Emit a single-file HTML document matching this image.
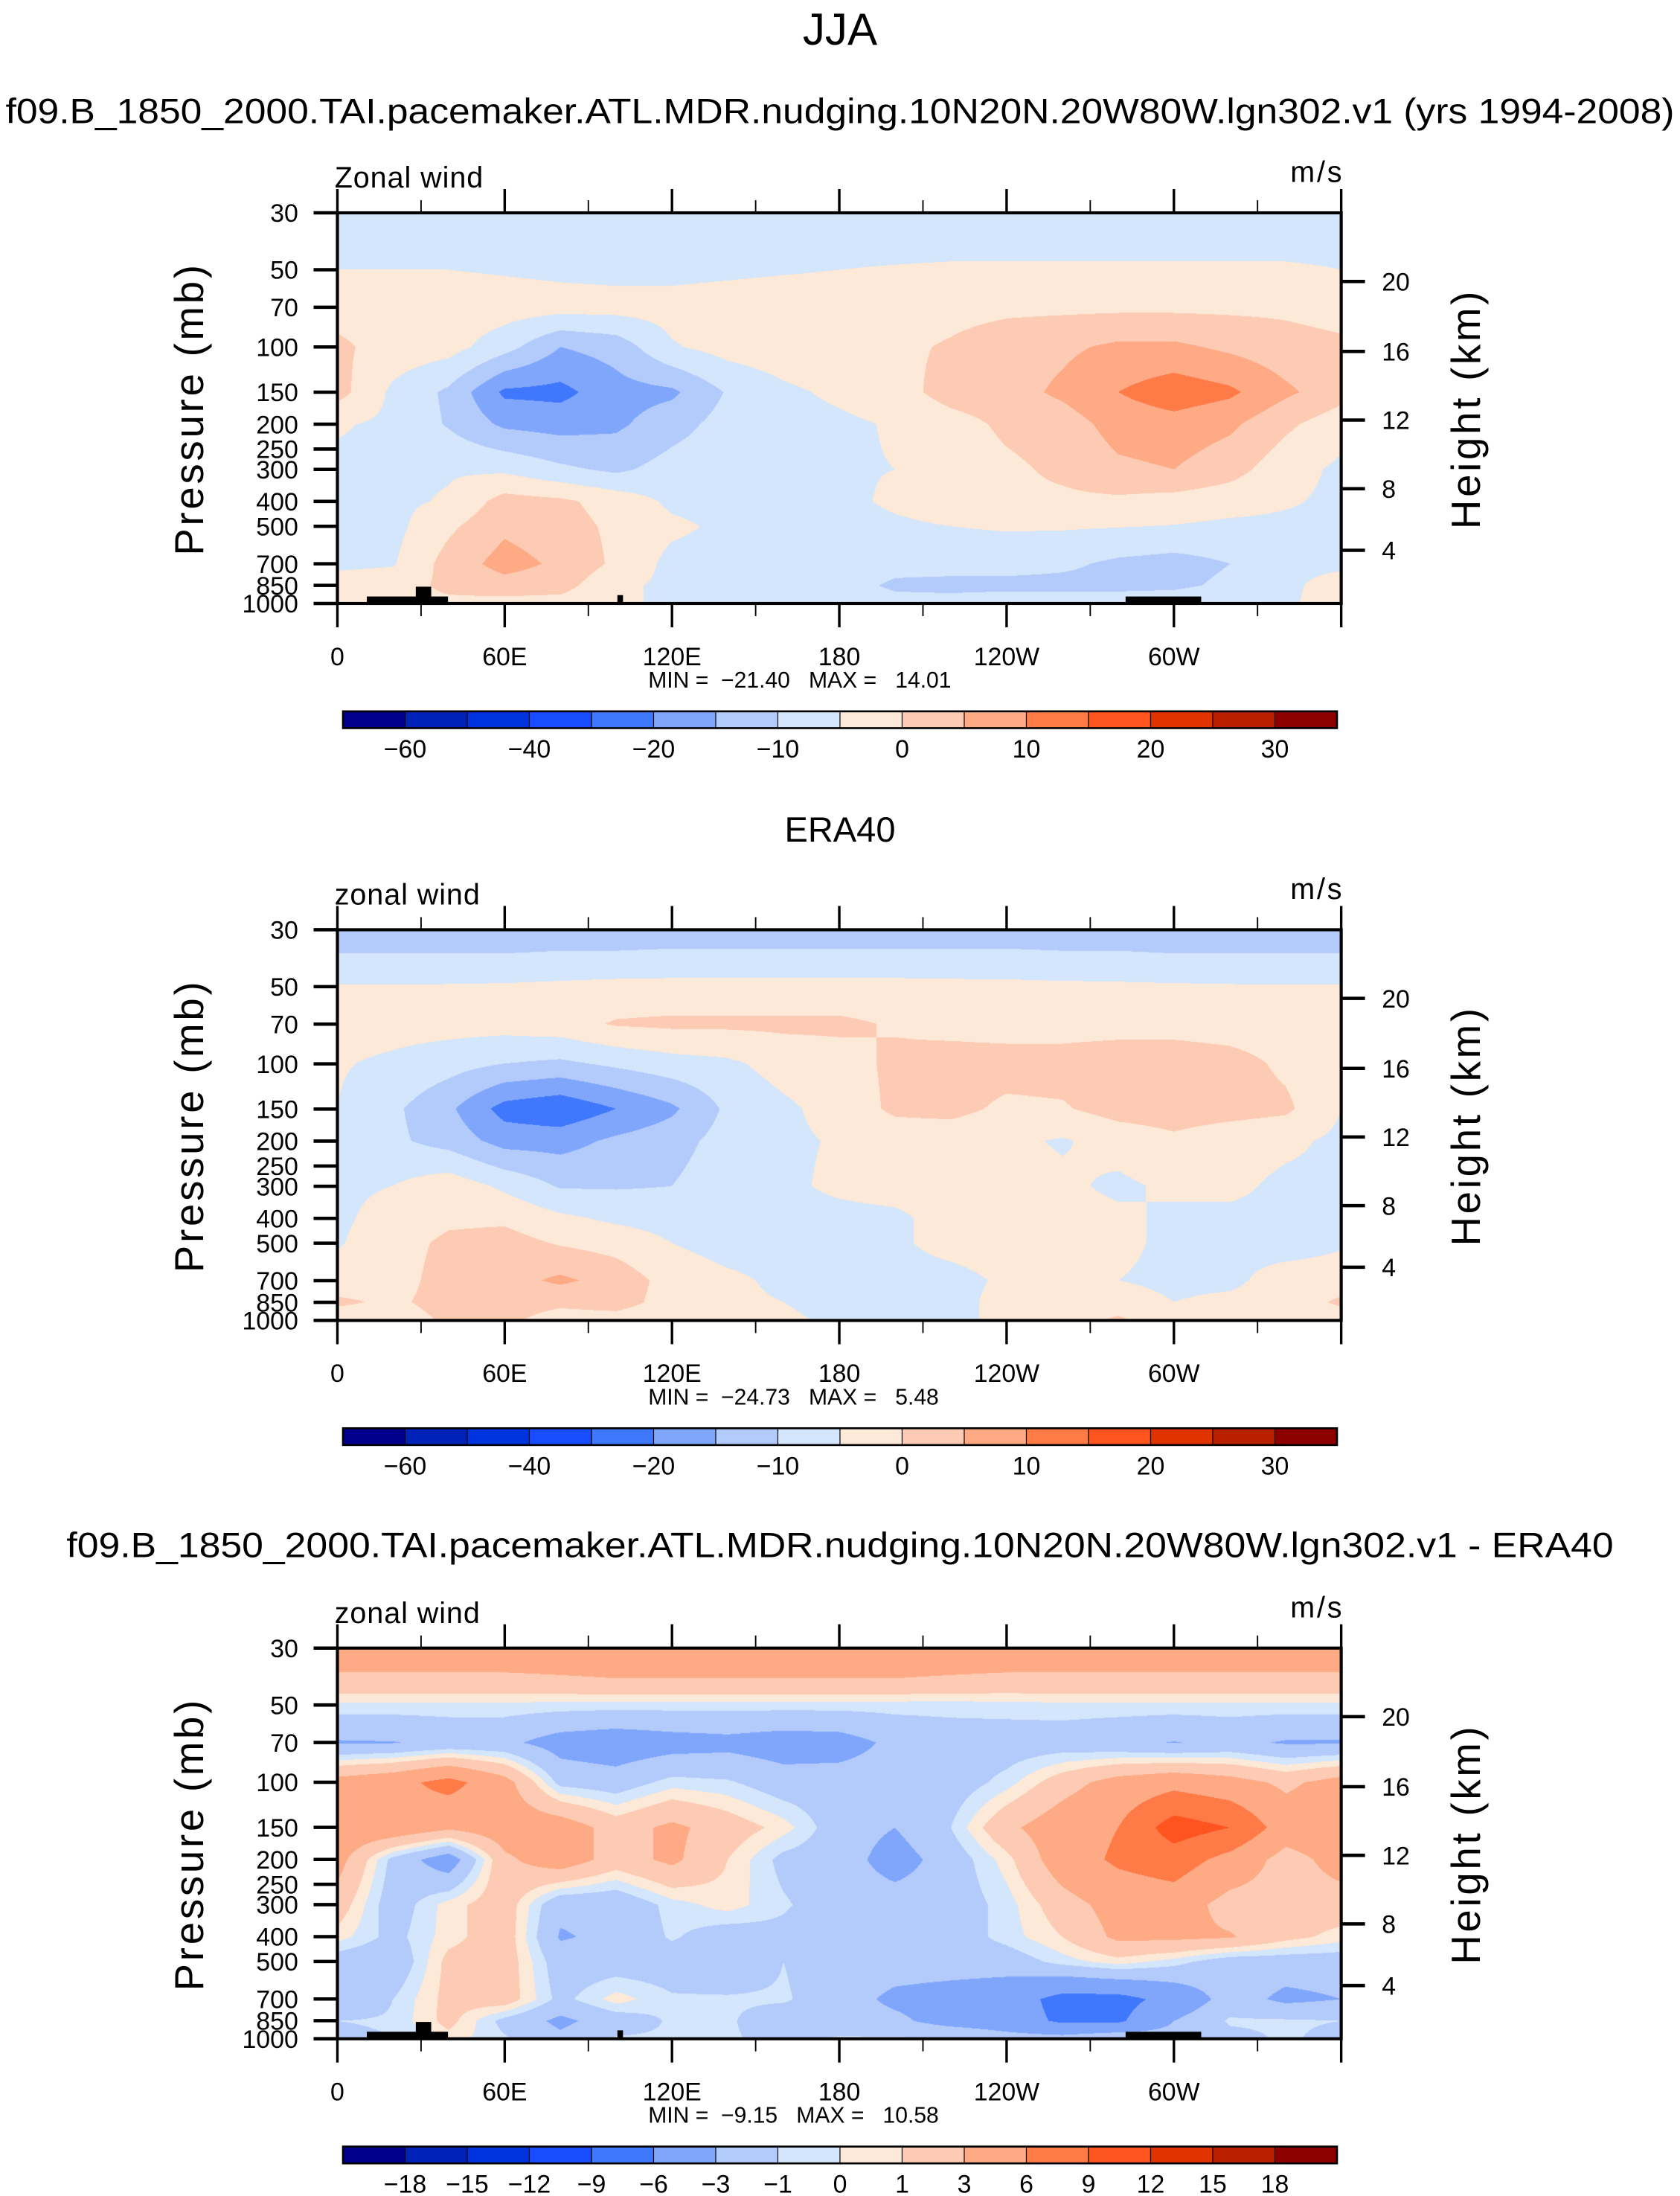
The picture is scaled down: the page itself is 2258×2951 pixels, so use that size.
<!DOCTYPE html>
<html><head><meta charset="utf-8"><style>
html,body{margin:0;padding:0;background:#fff;}
#root{position:relative;width:2258px;height:2951px;overflow:hidden;background:#fff;}
canvas{position:absolute;}
svg{position:absolute;left:0;top:0;}
text{font-family:"Liberation Sans",sans-serif;fill:#000;}
</style></head><body>
<div id="root">
<canvas id="c0"></canvas>
<canvas id="c1"></canvas>
<canvas id="c2"></canvas>
<svg id="svg" width="2258" height="2951" viewBox="0 0 1200 1568.3" preserveAspectRatio="none"></svg>
</div>
<script>
// ---- data ----
const lons = [0,20,40,60,80,100,120,140,160,180,200,220,240,260,280,300,320,340,360];
const pres = [30,40,50,70,100,150,200,300,400,500,700,850,1000];
const model = [
[-8,-8,-8,-8,-8,-8,-8,-8,-8,-8,-8,-8,-8,-8,-8,-8,-8,-8,-8],
[-7,-7,-7,-7,-7,-7,-7,-7,-7,-7,-7,-7,-7,-7,-7,-7,-7,-7,-7],
[-5,-5,-5,-5.5,-6,-6.5,-6.5,-6,-5.5,-5,-4.5,-4,-4,-4,-4,-4,-4,-4,-5],
[-2,-2,-2,-2.5,-3,-3,-3,-2.5,-2,-2,-2,-1.5,-1,-1,-1,-1,-1,-1,-2],
[1,-2,-3,-8,-15,-13,-5.5,-3,-2,-1.5,-1,0.5,2.5,4,6,6,4,2,1],
[2,-6,-11,-21,-21.5,-17,-16,-9.5,-6,-4,-2,2,3,6,10,13,11,6,2],
[-4.5,-6,-10.5,-16,-17,-16,-12,-8,-7,-6,-4.5,-2,1,2.5,7,8,6,1,-3],
[-6,-6,-5.5,-6,-9,-11,-8,-7,-6,-5.5,-5,-3,-1,1,4,5,2,-3,-6],
[-6,-6,-4.5,2,1,-2,-6,-7,-7,-6.5,-4,-2,-1,-1,-1,-2,-3,-4.5,-6],
[-6,-6.5,-1,4,2,-1,-4,-6,-7,-7,-6,-5,-4.5,-4.5,-4.8,-5.2,-6,-6,-6],
[-6,-5.5,2,7,4,-1,-6.5,-6.5,-6.5,-6.5,-8,-8,-8,-9,-11,-12,-10,-6,-6],
[-3,-2,1,3,2,-4,-6,-6.5,-7,-7.5,-11,-11.5,-11.5,-11.5,-11.5,-11,-9,-6,-3],
[-2,-1,-1,-2,-2,-4,-6,-6,-7,-7,-8,-8,-7,-7,-7,-7,-6,-6,-2]
];
const era = [
[-13,-13,-13,-13,-13,-13,-13,-13,-13,-13,-13,-13,-13,-13,-13,-13,-13,-13,-13],
[-9,-9,-9,-9,-8.5,-8.5,-8,-8,-8,-8,-8,-8,-8,-8.5,-8.5,-9,-9,-9,-9],
[-4.7,-4.7,-4.6,-4.4,-4,-3.5,-3.5,-3.5,-3.5,-3.5,-3.5,-3.7,-3.8,-4,-4.2,-4.4,-4.6,-4.7,-4.7],
[-3,-3,-3,-3,-2,0.5,1,1,1,1,-0.5,-1.5,-2,-2,-2,-2,-2.5,-3,-3],
[-4.5,-6,-8,-10,-11,-9,-7,-6,-3,-2,1,2,2,2,3,3,2,-1,-4.5],
[-5,-9,-14,-22,-24,-20,-16,-9,-6,-3,1,1.5,-1,-0.5,2,2.5,2,1,-5],
[-6,-9,-12,-17,-17,-14,-12,-8,-6,-4.5,-3,-3,-4,-5.5,-3,-1,-3,-4,-6],
[-6,-5,-2,-6,-10.5,-10.5,-10,-7,-6,-4,-3,-2.5,-3,-4,-6,-4,-4,-6,-6],
[-6,-3,-1,-1,-4,-6,-7,-7.5,-7,-6.5,-6,-3,-2,-3,-4,-6,-6,-6,-6],
[-5.5,-2,1,2,-0.5,-2,-5,-7,-7,-7,-6,-3,-2,-3,-4,-6,-6,-7,-5.5],
[-3,-2,2,3,6,3,-2,-4,-6,-7,-7,-7,-4,-3,-5,-6,-6,-3,-3],
[1,-1,2,2,1,2,-2,-4,-5,-7,-7,-7,-3,-3,-3,-5,-4,-3,1],
[-3,-3,1,1,-2,-2,-3,-4,-4,-6,-6,-6,-4,-3,1,-4,-3,-3,-3]
];
const diff = [
[4.5,4.5,4.5,4.5,4.5,4.5,4.5,4.5,4.5,4.5,4.5,4.5,4.5,4.5,4.5,4.5,4.5,4.5,4.5],
[2.5,2.5,2.5,2.5,2.7,2.9,2.9,2.9,2.9,2.9,2.9,2.7,2.5,2.5,2.5,2.5,2.5,2.5,2.5],
[-0.3,-0.3,-0.3,-0.3,-0.4,-0.5,-0.5,-0.5,-0.5,-0.5,-0.5,-0.5,-0.4,-0.3,-0.3,-0.3,-0.3,-0.3,-0.3],
[-3.2,-3.1,-2.5,-2.5,-4,-4.5,-4,-3.7,-4.2,-4,-2.5,-2,-2,-2,-2.5,-3.1,-2.5,-3.2,-3.2],
[4,5,7,4,-1.5,-2,-0.5,-0.8,-2,-2,-2,-2,-0.5,2,4,5,4,2.5,4],
[5,5,3.5,4.5,4.5,2,3.5,2,0.5,-2,-3,-1,2.5,4.5,6,10.5,9,4.5,5],
[4,-1.5,-4.5,2.5,4.5,2,3.5,1,-1.5,-2,-4,-2,0.5,4.5,6.5,7.5,5,2,4],
[2,-2,0.5,2,-2.5,-2.5,-0.5,0.5,-0.8,-2,-2,-2,-0.5,2,4,4.5,2,2,2],
[0.5,-1.5,0.5,2,-3.2,-2.5,-0.8,-2,-1.5,-2,-2,-2,-0.5,1,3.5,3.5,3.2,1.5,0.5],
[-2,-2.5,1.5,2,-2,-2,-2,-2.5,-1,-2,-2,-2,-2,-0.5,0.5,-0.5,-2,-2,-2],
[-3,-1,1.5,2,-1.5,0.5,-0.8,-0.8,-0.8,-2,-3.5,-4,-4.5,-7,-7,-5,-2,-3.5,-3],
[-1,-0.8,1.5,-1.5,-3.5,-2,-0.8,-0.8,-2,-2,-2.5,-4,-4.5,-6.5,-6.5,-3,-0.8,-0.8,-1],
[-1.5,-1,0.5,-0.8,-2.5,-0.8,-0.8,-0.8,-1.5,-0.8,-0.8,-0.8,-2,-2,-1,-2,-1.5,-0.8,-1.5]
];
const levelsFull = [-60,-50,-40,-30,-20,-15,-10,-5,0,5,10,15,20,25,30];
const levelsDiff = [-18,-15,-12,-9,-6,-3,-1,0,1,3,6,9,12,15,18];
const labelsFull = ["\u221260","\u221240","\u221220","\u221210","0","10","20","30"];
const labelIdxFull = [1,3,5,7,9,11,13,15];
const labelsDiff = ["\u221218","\u221215","\u221212","\u22129","\u22126","\u22123","\u22121","0","1","3","6","9","12","15","18"];
const pTicks = [30,50,70,100,150,200,250,300,400,500,700,850,1000];
const hTicks = [20,16,12,8,4];
const lonLabels = ["0","60E","120E","180","120W","60W"];
const stats = [["\u221221.40","14.01"],["\u221224.73","5.48"],["\u22129.15","10.58"]];
const colors = ['#00008c','#0022b8','#0033e0','#1a4cff','#4078fd','#80a6fc','#b3cbfb','#d4e6fb','#fde9d8','#fdcbb3','#fdaa85','#fe7b48','#ff5420','#e03300','#b82000','#8c0000'];

// ---- geometry ----
const S = 2258/1200;
const PX0 = 241, PW = 717, PH = 279;
const panelTops = [152, 664, 1177];
const L30 = Math.log(30), LR = Math.log(1000) - Math.log(30);
const yP = (p, top) => top + (Math.log(p) - L30) / LR * PH;
const xL = lon => PX0 + lon / 360 * PW;
const hOff = {20:49,16:99,12:148,8:197,4:241};

function hex(c){return [parseInt(c.substr(1,2),16),parseInt(c.substr(3,2),16),parseInt(c.substr(5,2),16)];}
const rgb = colors.map(hex);
function idxOf(v, lev){let k=0; for(const b of lev) if(v>=b) k++; return k;}

function drawField(cid, grid, lev, top){
  const cv = document.getElementById(cid);
  const x0 = Math.round(PX0*S), y0 = Math.round(top*S);
  const w = Math.round((PX0+PW)*S) - x0, h = Math.round((top+PH)*S) - y0;
  cv.width = w; cv.height = h;
  cv.style.left = x0+'px'; cv.style.top = y0+'px';
  const ctx = cv.getContext('2d');
  const img = ctx.createImageData(w,h);
  const lp = pres.map(p=>Math.log(p));
  for(let j=0;j<h;j++){
    const fy = (j+0.5)/h;
    const lpv = L30 + fy*LR;
    let r=0; while(r<lp.length-2 && lpv>lp[r+1]) r++;
    const ty = Math.min(1,Math.max(0,(lpv-lp[r])/(lp[r+1]-lp[r])));
    for(let i=0;i<w;i++){
      const lon = (i+0.5)/w*360;
      let c = Math.min(lons.length-2, Math.floor(lon/20));
      const tx = (lon - lons[c])/(lons[c+1]-lons[c]);
      const v = (1-ty)*((1-tx)*grid[r][c]+tx*grid[r][c+1]) + ty*((1-tx)*grid[r+1][c]+tx*grid[r+1][c+1]);
      const col = rgb[idxOf(v,lev)];
      const o = (j*w+i)*4;
      img.data[o]=col[0]; img.data[o+1]=col[1]; img.data[o+2]=col[2]; img.data[o+3]=255;
    }
  }
  ctx.putImageData(img,0,0);
}
drawField('c0', model, levelsFull, panelTops[0]);
drawField('c1', era, levelsFull, panelTops[1]);
drawField('c2', diff, levelsDiff, panelTops[2]);

// ---- svg overlay ----
const NS = 'http://www.w3.org/2000/svg';
const svg = document.getElementById('svg');
function el(tag, attrs, parent, txt){
  const e = document.createElementNS(NS, tag);
  for(const k in attrs) e.setAttribute(k, attrs[k]);
  if(txt!==undefined) e.textContent = txt;
  (parent||svg).appendChild(e);
  return e;
}
let t;
t = el('text',{x:600,y:32,'font-size':32,'text-anchor':'middle','font-weight':'300'},svg,'JJA');


t = el('text',{x:600,y:88,'font-size':25,'text-anchor':'middle',textLength:1192,lengthAdjust:'spacingAndGlyphs'},svg,'f09.B_1850_2000.TAI.pacemaker.ATL.MDR.nudging.10N20N.20W80W.lgn302.v1 (yrs 1994-2008)');


t = el('text',{x:600,y:601,'font-size':25,'text-anchor':'middle'},svg,'ERA40');


t = el('text',{x:600,y:1112,'font-size':25,'text-anchor':'middle',textLength:1105,lengthAdjust:'spacingAndGlyphs'},svg,'f09.B_1850_2000.TAI.pacemaker.ATL.MDR.nudging.10N20N.20W80W.lgn302.v1 - ERA40');



const varNames = ['Zonal wind','zonal wind','zonal wind'];
panelTops.forEach((top, pi)=>{
  const g = el('g',{});
  
  
  if(pi!==1){
    [[262,426,58,5],[297,419,11,12],[441,425,4,6],[804,426,54,5]].forEach(r=>{
      const rr = el('rect',{x:r[0],y:top+(r[1]-152),width:r[2],height:r[3],fill:'#000'},g);
      
      
    });
  }
  const fr = el('rect',{x:PX0,y:top,width:PW,height:PH,fill:'none',stroke:'#000','stroke-width':2.2},g);
  
  
  for(let lon=0; lon<=360; lon+=30){
    const major = lon%60===0;
    const len = major?17:9;
    const x = xL(lon);
    const a = el('line',{x1:x,y1:top,x2:x,y2:top-len,stroke:'#000','stroke-width':major?1.8:1},g);
    
    
    const b = el('line',{x1:x,y1:top+PH,x2:x,y2:top+PH+len,stroke:'#000','stroke-width':major?1.8:1},g);
    
    
  }
  lonLabels.forEach((lb,k)=>{
    const tx = el('text',{x:xL(k*60),y:top+PH+44,'font-size':18,'text-anchor':'middle'},g,lb);
    
    
  });
  pTicks.forEach(p=>{
    const y = yP(p, top);
    const ln = el('line',{x1:PX0-17,y1:y,x2:PX0,y2:y,stroke:'#000','stroke-width':2.4},g);
    
    
    const tx = el('text',{x:213,y:y+6.5,'font-size':18,'text-anchor':'end'},g,String(p));
    
    
  });
  hTicks.forEach(h=>{
    const y = top + hOff[h];
    const ln = el('line',{x1:PX0+PW,y1:y,x2:PX0+PW+17,y2:y,stroke:'#000','stroke-width':2.4},g);
    
    
    const tx = el('text',{x:987,y:y+6.5,'font-size':18},g,String(h));
    
    
  });
  const ya = el('text',{x:0,y:0,'font-size':29,'text-anchor':'middle','letter-spacing':2,transform:`translate(145,${top+140}) rotate(-90)`},g,'Pressure (mb)');
  
  
  const ha = el('text',{x:0,y:0,'font-size':29,'text-anchor':'middle','letter-spacing':2,transform:`translate(1057,${top+140}) rotate(-90)`},g,'Height (km)');
  
  
  const vn = el('text',{x:239,y:top-18,'font-size':21,'letter-spacing':0.5},g,varNames[pi]);
  
  
  const un = el('text',{x:960,y:top-22,'font-size':21,'text-anchor':'end','letter-spacing':1.5},g,'m/s');
  
  
  const st = el('text',{x:463,y:top+PH+60,'font-size':16,style:'white-space:pre'},g,'MIN =  '+stats[pi][0]+'   MAX =   '+stats[pi][1]);
  
  
  const cb = el('g',{},g);
  
  
  const cy = top + 356, cx0 = 245, cw = 710/16;
  colors.forEach((c,k)=>{
    const r = el('rect',{x:cx0+k*cw,y:cy,width:cw,height:12,fill:c,stroke:'#000','stroke-width':0.6},cb);
    
    
  });
  const ob = el('rect',{x:cx0,y:cy,width:710,height:12,fill:'none',stroke:'#000','stroke-width':1.4},cb);
  
  
  if(pi<2){
    labelsFull.forEach((lb,k)=>{
      const tx = el('text',{x:cx0+labelIdxFull[k]*cw,y:cy+33,'font-size':18,'text-anchor':'middle'},cb,lb);
      
      
    });
  } else {
    labelsDiff.forEach((lb,k)=>{
      const tx = el('text',{x:cx0+(k+1)*cw,y:cy+33,'font-size':18,'text-anchor':'middle'},cb,lb);
      
      
    });
  }
});
</script>
</body></html>
